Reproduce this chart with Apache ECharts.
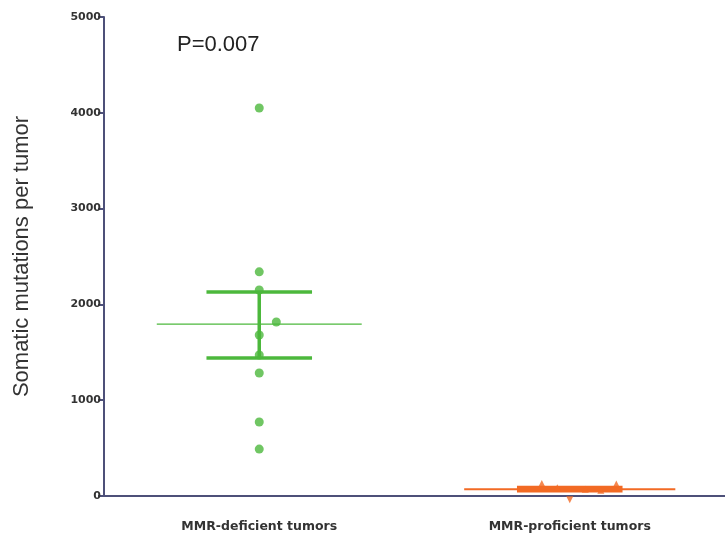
<!DOCTYPE html>
<html><head><meta charset="utf-8">
<script src="https://cdn.jsdelivr.net/npm/echarts@6/dist/echarts.min.js"></script>
<style>html,body{margin:0;padding:0;background:#fff}#c{width:725px;height:545px}</style>
</head><body><div id="c"></div>
<script>
const categories = ['MMR-deficient tumors', 'MMR-proficient tumors'];
const yTicks = [0, 1000, 2000, 3000, 4000, 5000];
// [x offset within group, value]
const deficientPoints = [[0,4050],[0,2340],[0,2150],[0.055,1816],[0,1680],[0,1472],[0,1284],[0,772],[0,490]];
const deficientMean = 1795;
const deficientSEM = [1440, 2130];
const proficientPoints = [[-0.09,130],[0.15,125],[-0.04,85],[0.05,70],[0.1,60],[0,-40]];
const proficientMean = 70;
const proficientSEM = [55, 90];
const pValue = 'P=0.007';

const green = '#4cb83c', orange = '#f26a24', axisCol = '#4d5079';
const chart = echarts.init(document.getElementById('c'));
function hline(cx, half, v) { return [[cx - half, v], [cx + half, v]]; }
function lineSeries(data, color, width) {
  return { type: 'line', xAxisIndex: 1, data: data, symbol: 'none', silent: true,
    lineStyle: { color: color, width: width }, z: 3 };
}
const series = [
  lineSeries(hline(0, 0.33, deficientMean), green, 1.2),
  lineSeries(hline(0, 0.17, deficientSEM[0]), green, 3.5),
  lineSeries(hline(0, 0.17, deficientSEM[1]), green, 3.5),
  lineSeries([[0, deficientSEM[0]], [0, deficientSEM[1]]], green, 3.5),
  { type: 'scatter', xAxisIndex: 1, symbol: 'circle', symbolSize: 9,
    itemStyle: { color: green }, data: deficientPoints, z: 4 },
  lineSeries(hline(1, 0.34, proficientMean), orange, 2),
  lineSeries(hline(1, 0.17, proficientSEM[0]), orange, 3.5),
  lineSeries(hline(1, 0.17, proficientSEM[1]), orange, 3.5),
  lineSeries([[1, proficientSEM[0]], [1, proficientSEM[1]]], orange, 3.5),
  { type: 'scatter', xAxisIndex: 1, symbol: 'triangle', symbolSize: 7, clip: false,
    itemStyle: { color: orange },
    data: proficientPoints.map(p => ({ value: [1 + p[0], p[1]], symbolRotate: p[1] < 0 ? 180 : 0 })), z: 4 }
];
chart.setOption({
  animation: false,
  grid: { left: 104, right: 0, top: 17, bottom: 49 },
  xAxis: [
    { type: 'category', data: categories, boundaryGap: true, position: 'bottom',
      axisLine: { onZero: false, lineStyle: { color: axisCol, width: 2 } },
      axisTick: { inside: false, alignWithLabel: true, length: 6, lineStyle: { color: axisCol, width: 2 } },
      axisLabel: { margin: 24, color: '#333', fontFamily: 'DejaVu Sans', fontWeight: 'bold', fontSize: 12.5 } },
    { type: 'value', min: -0.5, max: 1.5, show: false, position: 'bottom' }
  ],
  yAxis: { type: 'value', position: 'left', min: yTicks[0], max: yTicks[yTicks.length - 1], interval: 1000,
    name: 'Somatic mutations per tumor', nameLocation: 'middle', nameGap: 71, nameRotate: 90,
    nameTextStyle: { fontFamily: 'Liberation Sans', fontSize: 22, color: '#333' },
    axisLine: { show: true, onZero: false, lineStyle: { color: axisCol, width: 2 } },
    axisTick: { show: true, inside: false, length: 6, lineStyle: { color: axisCol, width: 2 } },
    splitLine: { show: false },
    axisLabel: { margin: 3, color: '#333', fontFamily: 'DejaVu Sans', fontWeight: 'bold', fontSize: 11,
      formatter: v => String(v) } },
  graphic: [{ type: 'text', left: 177, top: 34,
    style: { text: pValue, font: '22px "Liberation Sans"', fill: '#222' } }],
  series: series
});
</script></body></html>
